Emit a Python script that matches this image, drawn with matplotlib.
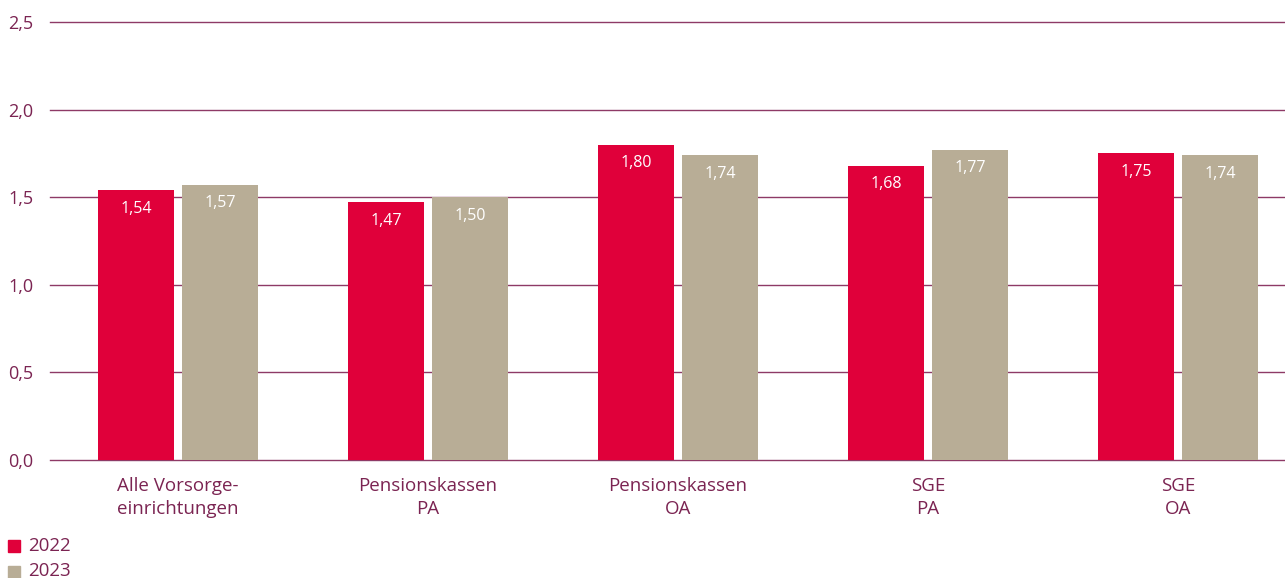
import matplotlib.pyplot as plt
import numpy as np

# Datos
categorias = ["Alle Vorsorge-\neinrichtungen", "Pensionskassen\nPA", "Pensionskassen\nOA", "SGE\nPA", "SGE\nOA"]
valores_2022 = [1.54, 1.47, 1.80, 1.68, 1.75]
valores_2023 = [1.57, 1.50, 1.74, 1.77, 1.74]
etiquetas_y = ["0,0", "0,5", "1,0", "1,5", "2,0", "2,5"]

rojo = "#E0003A"
beige = "#B8AD96"
morado = "#7B2452"
linea = "#8E3A66"

plt.rcParams["font.family"] = ["Open Sans", "DejaVu Sans"]

fig = plt.figure(figsize=(12.85, 5.78), dpi=100)
ax = fig.add_axes([50 / 1285, 1 - 460 / 578, 1235 / 1285, 438 / 578])

x = np.arange(len(categorias))
ancho = 0.304
desp = 0.168

b1 = ax.bar(x - desp, valores_2022, ancho, color=rojo, zorder=3)
b2 = ax.bar(x + desp, valores_2023, ancho, color=beige, zorder=3)

# Etiquetas dentro de las barras
for barras in (b1, b2):
    for bar in barras:
        h = bar.get_height()
        ax.text(bar.get_x() + bar.get_width() / 2, h - 0.105, f"{h:.2f}".replace(".", ","),
                ha="center", va="center", color="white", fontsize=11.5, zorder=4)

ax.set_xlim(-0.512, 4.428)
ax.set_ylim(0, 2.5)
ax.set_yticks(np.arange(0, 2.51, 0.5))
ax.set_yticklabels(etiquetas_y, color=morado, fontsize=13)
ax.set_xticks(x)
ax.set_xticklabels(categorias, color=morado, fontsize=13.5, linespacing=1.35)
ax.tick_params(axis="both", length=0)
ax.tick_params(axis="y", pad=12)
ax.tick_params(axis="x", pad=12)

# Líneas horizontales
for v in np.arange(0, 2.51, 0.5):
    ax.axhline(v, color=linea, linewidth=1, zorder=0, clip_on=False)
for s in ax.spines.values():
    s.set_visible(False)

# Leyenda manual
fig.patches.append(plt.Rectangle((8 / 1285, 1 - 552 / 578), 12 / 1285, 12 / 578,
                                 transform=fig.transFigure, color=rojo))
fig.patches.append(plt.Rectangle((8 / 1285, 1 - 578 / 578), 12 / 1285, 12 / 578,
                                 transform=fig.transFigure, color=beige))
fig.text(28 / 1285, 1 - 546 / 578, "2022", color=morado, fontsize=13.5, va="center")
fig.text(28 / 1285, 1 - 571 / 578, "2023", color=morado, fontsize=13.5, va="center")

plt.savefig("out.png", dpi=100)
